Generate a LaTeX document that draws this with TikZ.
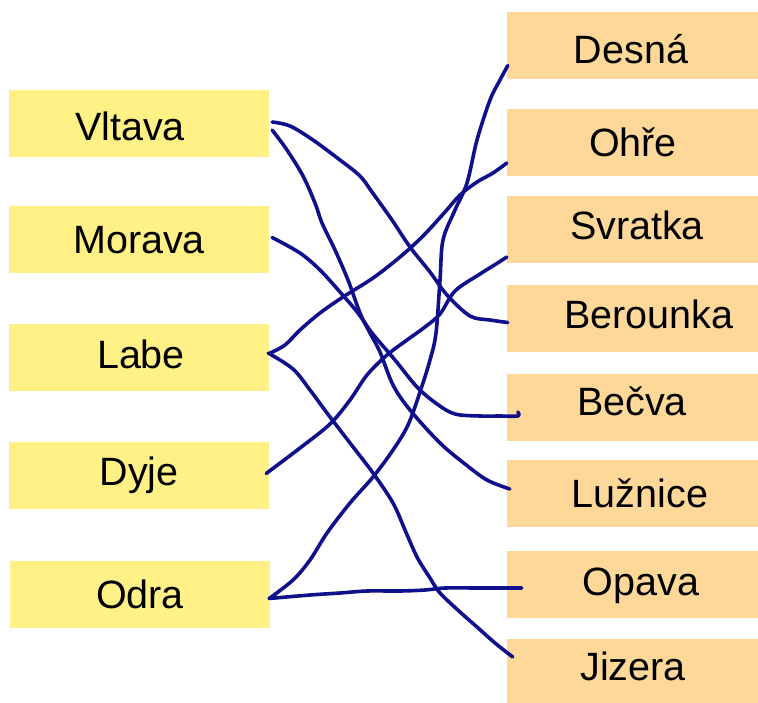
\documentclass[tikz,border=0pt]{standalone}
\usepackage{fontspec}
\setmainfont{Liberation Sans}
\definecolor{leftfill}{RGB}{255,241,134}
\definecolor{rightfill}{RGB}{253,216,153}
\definecolor{ink}{RGB}{16,16,140}
\begin{document}
\begin{tikzpicture}[x=1pt,y=-1pt,
  box/.style={inner sep=0pt,minimum height=67pt,text depth=0pt,
    font=\fontsize{39.5}{41}\selectfont},
  lbox/.style={box,fill=leftfill,minimum width=260pt},
  rbox/.style={box,fill=rightfill,minimum width=252pt},
  conn/.style={ink,line width=3.6pt,line cap=round,line join=round}]
\useasboundingbox (0,0) rectangle (758,702);
% left
\node[lbox,text height=34pt] (vltava) at (139,123) {Vltava\hspace*{18pt}};
\node[lbox,text height=27pt] (morava) at (139,239.5) {Morava};
\node[lbox,text height=22pt] (labe) at (139,357) {\hspace*{4pt}Labe};
\node[lbox,text height=19pt] (dyje) at (139,475.5) {Dyje};
\node[lbox,text height=27pt] (odra) at (140,594.5) {Odra};
% right
\node[rbox,text height=35pt] (desna) at (633,45.5) {Desná\hspace*{4pt}};
\node[rbox,text height=28pt] (ohre) at (633,142) {Ohře};
\node[rbox,text height=19pt] (svratka) at (633,229.5) {\hspace*{8pt}Svratka};
\node[rbox,text height=19pt] (berounka) at (633,318.5) {\hspace*{32pt}Berounka};
\node[rbox,text height=16pt] (becva) at (633,407) {Bečva\hspace*{2pt}};
\node[rbox,text height=28pt] (luznice) at (633,493) {\hspace*{14pt}Lužnice};
\node[rbox,text height=21pt] (opava) at (633,584.5) {\hspace*{16pt}Opava};
\node[rbox,text height=16pt] (jizera) at (633,672) {Jizera};
% connectors
\draw[conn] plot[smooth,tension=0.55] coordinates {([shift={(3,-1)}]vltava.east) (290,126) (313,140) (340,160) (360,176) (372,192) (392,220) (410,247) (430,272) (447,295) (470,316) (490,320) ([shift={(1,4)}]berounka.west)};
\draw[conn] plot[smooth,tension=0.55] coordinates {([shift={(3,7)}]vltava.east) (287,150) (303,176) (315,203) (322,223) (335,250) (348,280) (360,313) (370,333) (380,352) (393,385) (410,410) (440,443) (465,464) (487,480) ([shift={(3,-4)}]luznice.west)};
\draw[conn] plot[smooth,tension=0.55] coordinates {([shift={(3,-2)}]morava.east) (300,253) (320,270) (340,292) (358,313) (372,333) (395,360) (417,387) (437,404) (455,414) (480,416) (500,416) ([shift={(11,9)}]becva.west) ([shift={(11,5)}]becva.west)};
\draw[conn] plot[smooth,tension=0.55] coordinates {([shift={(1,-4)}]labe.east) (285,345) (300,330) (320,313) (343,297) (373,278) (400,257) (423,236) (445,212) (460,195) (477,182) (493,173) ([shift={(0,21)}]ohre.west)};
\draw[conn] plot[smooth,tension=0.55] coordinates {([shift={(-1,-4)}]labe.east) (293,369) (310,390) (327,413) (350,443) (373,473) (393,503) (405,530) (417,557) (430,578) (440,593) (460,612) (477,627) (495,643) ([shift={(6,-15)}]jizera.west)};
\draw[conn] plot[smooth,tension=0.55] coordinates {([shift={(-3,-2)}]dyje.east) (300,448) (330,424) (350,400) (367,375) (387,355) (407,340) (425,327) (440,314) (455,291) (480,274) (496,264) ([shift={(0,27.5)}]svratka.west)};
\draw[conn] plot[smooth,tension=0.55] coordinates {([shift={(-1,4)}]odra.east) (293,580) (310,560) (327,533) (350,503) (373,477) (393,450) (408,425) (420,392) (430,360) (436,333) (440,280) (443,240) (455,210) (467,183) (477,140) (490,100) (500,80) ([shift={(1,20)}]desna.west)};
\draw[conn] plot[smooth,tension=0.55] coordinates {([shift={(-1,4)}]odra.east) (310,595) (340,593) (367,591) (400,591) (425,590) (445,588) (480,588) ([shift={(15,3.5)}]opava.west)};
\end{tikzpicture}
\end{document}
